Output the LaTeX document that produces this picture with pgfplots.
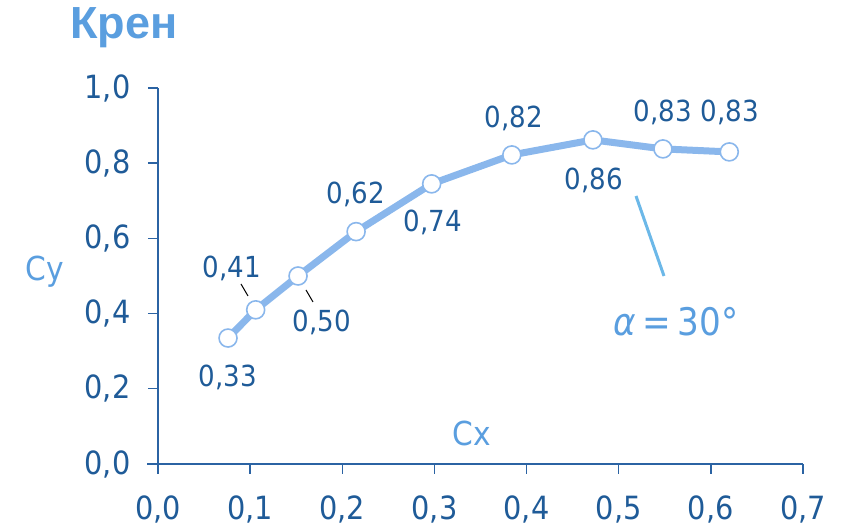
\documentclass[border=0pt]{standalone}
\usepackage{fontspec}
\setmainfont{DejaVu Sans}[FakeStretch=0.9]
\newfontfamily\titlefont{Liberation Sans}
\usepackage{pgfplots}
\pgfplotsset{compat=1.18}
\definecolor{ticktext}{HTML}{1F5B98}
\definecolor{axisblue}{HTML}{2B63A3}
\definecolor{linecol}{HTML}{8AB7EC}
\definecolor{labblue}{HTML}{5A9EDF}
\definecolor{leadblue}{HTML}{6CB8E8}
\begin{document}
\begin{tikzpicture}[x=1pt,y=1pt]
\useasboundingbox (-158,-65) rectangle (688,464);
\begin{axis}[
  at={(0,0)}, anchor=origin,
  scale only axis, width=645pt, height=376pt,
  xmin=0, xmax=0.7, ymin=0, ymax=1.0,
  axis lines=left, axis line style={-, draw=axisblue, line width=1.6pt},
  xtick={0,0.1,...,0.7}, ytick={0,0.2,...,1.0},
  tick align=outside, major tick length=10pt,
  tick style={draw=axisblue, line width=1.4pt},
  ticklabel style={font=\fontsize{32}{34}\selectfont, text=ticktext},
  xticklabel style={yshift=-18pt},
  yticklabel style={xshift=-14pt},
  clip=false,
  /pgf/number format/.cd, use comma, fixed, fixed zerofill, precision=1, assume math mode=true,
]
\addplot[color=linecol, line width=7pt, mark=*, mark size=9pt,
  mark options={fill=white, draw=linecol, line width=1.6pt}]
  coordinates {
  (0.076,0.335) (0.106,0.410) (0.152,0.500) (0.215,0.618) (0.297,0.745)
  (0.384,0.822) (0.472,0.862) (0.548,0.838) (0.620,0.830)
  };
\end{axis}
\draw[axisblue, line width=1.6pt] (-11,0) -- (0,0);
\begin{scope}[every node/.style={font=\fontsize{29}{31}\selectfont, text=ticktext, inner sep=0pt}]
\node at (228-158, 464-377) {0,33};
\node at (232-158, 464-268) {0,41};
\node at (322-158, 464-322) {0,50};
\node at (356-158, 464-194) {0,62};
\node at (433-158, 464-222) {0,74};
\node at (514-158, 464-118) {0,82};
\node at (594-158, 464-180) {0,86};
\node at (663-158, 464-112) {0,83};
\node at (730-158, 464-112) {0,83};
\end{scope}
\draw[black, line width=1pt] (241-158, 464-284) -- (248-158, 464-296);
\draw[black, line width=1pt] (306-158, 464-290) -- (313-158, 464-302);
\draw[leadblue, line width=3pt] (636-158, 464-196) -- (664-158, 464-276);
\node[font=\fontsize{33}{35}\selectfont, text=labblue, inner sep=0pt] at (45-158, 464-272) {Cy};
\node[font=\fontsize{33}{35}\selectfont, text=labblue, inner sep=0pt] at (472-158, 464-433) {Cx};
\node[font=\titlefont\bfseries\fontsize{45}{47}\selectfont, text=labblue, inner sep=0pt] at (124-158, 464-28) {Крен};
\node[font=\fontsize{38}{40}\selectfont, text=labblue, inner sep=0pt] at (676-158, 464-322) {\textit{α}\,=\,30°};
\end{tikzpicture}
\end{document}
